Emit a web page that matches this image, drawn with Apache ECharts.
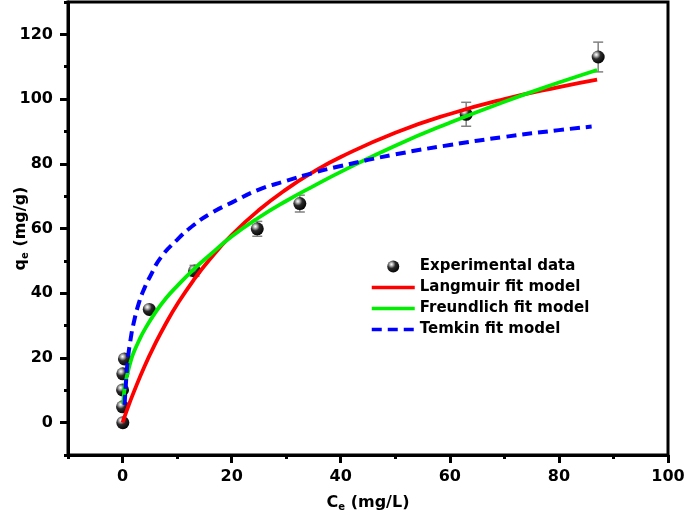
<!DOCTYPE html>
<html>
<head>
<meta charset="utf-8">
<script src="https://cdn.jsdelivr.net/npm/echarts@6/dist/echarts.min.js"></script>
<style>html,body{margin:0;padding:0;background:#fff}#c{width:685px;height:517px}</style>
</head>
<body>
<div id="c"></div>
<script>
// Experimental data (Ce, qe, error)
const expX = [0.05, 0, 0, 0.05, 0.35, 4.9, 13.2, 24.7, 32.5, 63, 87.2];
const expY = [0, 4.9, 10.1, 15.1, 19.7, 35, 46.9, 59.9, 67.7, 95.3, 113];
const expErr = [0.5, 0.5, 0.5, 0.5, 0.5, 0.8, 1.7, 2.3, 2.6, 3.7, 4.6];

// Langmuir fit curve
const langX = [0, 1, 2, 4, 6, 8, 10, 13, 16, 20, 25, 30, 35, 40, 50, 60, 70, 80, 87];
const langY = [0, 4.8, 9.2, 17.3, 24.4, 30.8, 36.5, 44, 50.5, 58, 65.7, 72.1, 77.5, 82.1, 89.6, 95.4, 100, 103.7, 106];

// Freundlich fit curve
const freuX = [0.12, 0.3, 0.6, 1, 1.5, 2, 3, 4, 6, 8, 10, 13, 16, 20, 25, 30, 35, 40, 50, 60, 70, 80, 87];
const freuY = [5.8, 9.5, 12.8, 15.8, 19, 21.5, 25.3, 28.6, 34, 38.5, 42.2, 47.3, 51.8, 57.5, 63.4, 68.5, 73.1, 77.5, 85.6, 92.7, 99.2, 105.1, 109];

// Temkin fit curve
const temkX = [0.37, 0.5, 0.7, 1, 1.5, 2, 3, 4, 5, 7, 10, 13, 16, 20, 25, 30, 35, 40, 50, 60, 70, 80, 86];
const temkY = [5.5, 9, 14, 20, 26, 30.5, 37, 41.5, 45, 51, 56.5, 61, 64.5, 68, 72, 74.7, 77.2, 79.3, 82.9, 85.8, 88.3, 90.4, 91.5];

// Ticks
const xMajor = [0, 20, 40, 60, 80, 100];
const xMinor = [-10, 10, 30, 50, 70, 90];
const yMajor = [0, 20, 40, 60, 80, 100, 120];
const yMinor = [-10, 10, 30, 50, 70, 90, 110, 130];

const legendNames = ['Experimental data', 'Langmuir fit model', 'Freundlich fit model', 'Temkin fit model'];

const FONT = 'DejaVu Sans';
const zip = (a, b) => a.map((v, i) => [v, b[i]]);

const chart = echarts.init(document.getElementById('c'), null, {renderer: 'canvas'});

const labelStyle = {color: '#000', fontFamily: FONT, fontWeight: 'bold', fontSize: 16};
const nameRich = {
  b: {fontFamily: FONT, fontWeight: 'bold', fontSize: 16, color: '#000'},
  s: {fontFamily: FONT, fontWeight: 'bold', fontSize: 10, color: '#000', padding: [9, 0, 0, 0]}
};

const sphere = {
  type: 'radial', x: 0.35, y: 0.32, r: 0.75,
  colorStops: [
    {offset: 0, color: '#ffffff'},
    {offset: 0.16, color: '#c0c0c0'},
    {offset: 0.45, color: '#2a2a2a'},
    {offset: 1, color: '#000000'}
  ]
};

function tickAxis(min, max, pos, values, len) {
  return {
    type: 'value', min: min, max: max, position: pos,
    axisLine: {show: false, onZero: false},
    axisTick: {show: true, length: len, customValues: values, lineStyle: {color: '#000', width: 3}},
    axisLabel: {show: false},
    splitLine: {show: false}
  };
}

chart.setOption({
  animation: false,
  backgroundColor: '#fff',
  grid: {left: 68, right: 17, top: 2, bottom: 62, show: true, borderColor: '#000', borderWidth: 3,
         containLabel: false, outerBoundsMode: 'none'},
  legend: {
    data: legendNames,
    orient: 'vertical',
    left: 365, top: 254,
    itemWidth: 43, itemHeight: 12, itemGap: 6,
    lineStyle: {width: 3.5},
    textStyle: {color: '#000', fontFamily: FONT, fontWeight: 'bold', fontSize: 15}
  },
  xAxis: [{
    type: 'value', min: -10, max: 100, position: 'bottom',
    name: '{b|C}{s|e}{b| (mg/L)}', nameLocation: 'middle', nameGap: 38, nameMoveOverlap: false,
    nameTextStyle: {rich: nameRich},
    axisLine: {show: true, onZero: false, lineStyle: {color: '#000', width: 3}},
    axisTick: {show: false},
    axisLabel: Object.assign({margin: 14, customValues: xMajor}, labelStyle),
    splitLine: {show: false}
  },
  tickAxis(-10, 100, 'bottom', xMajor, 8),
  tickAxis(-10, 100, 'bottom', xMinor, 4)],
  yAxis: [{
    type: 'value', min: -10, max: 130, position: 'left',
    name: '{b|q}{s|e}{b| (mg/g)}', nameLocation: 'middle', nameGap: 38, nameRotate: 90, nameMoveOverlap: false,
    nameTextStyle: {rich: nameRich},
    axisLine: {show: true, onZero: false, lineStyle: {color: '#000', width: 3}},
    axisTick: {show: false},
    axisLabel: Object.assign({margin: 15, customValues: yMajor}, labelStyle),
    splitLine: {show: false}
  },
  tickAxis(-10, 130, 'left', yMajor, 8),
  tickAxis(-10, 130, 'left', yMinor, 4)],
  series: [
    {
      type: 'custom', name: 'errors', z: 2,
      data: expX.map((x, i) => [x, expY[i], expErr[i]]),
      renderItem: function (params, api) {
        const x = api.value(0), y = api.value(1), e = api.value(2);
        const t = api.coord([x, y + e]);
        const b = api.coord([x, y - e]);
        const hw = 5;
        const st = {stroke: '#808080', lineWidth: 1.5};
        return {type: 'group', children: [
          {type: 'line', shape: {x1: t[0], y1: t[1], x2: b[0], y2: b[1]}, style: st},
          {type: 'line', shape: {x1: t[0] - hw, y1: t[1], x2: t[0] + hw, y2: t[1]}, style: st},
          {type: 'line', shape: {x1: b[0] - hw, y1: b[1], x2: b[0] + hw, y2: b[1]}, style: st}
        ]};
      }
    },
    {
      type: 'scatter', name: legendNames[0], z: 3,
      data: zip(expX, expY), symbol: 'circle', symbolSize: 13,
      itemStyle: {color: sphere, opacity: 1}
    },
    {
      type: 'line', name: legendNames[1], z: 4, data: zip(langX, langY),
      smooth: true, symbol: 'none', showSymbol: false,
      lineStyle: {color: '#ff0000', width: 3.8}, itemStyle: {color: 'rgba(0,0,0,0)', borderWidth: 0}
    },
    {
      type: 'line', name: legendNames[2], z: 5, data: zip(freuX, freuY),
      smooth: true, symbol: 'none', showSymbol: false,
      lineStyle: {color: '#00ee00', width: 3.8}, itemStyle: {color: 'rgba(0,0,0,0)', borderWidth: 0}
    },
    {
      type: 'line', name: legendNames[3], z: 6, data: zip(temkX, temkY),
      smooth: true, symbol: 'none', showSymbol: false,
      lineStyle: {color: '#0000ff', width: 4, type: [10, 6]}, itemStyle: {color: 'rgba(0,0,0,0)', borderWidth: 0}
    }
  ]
});
</script>
</body>
</html>
